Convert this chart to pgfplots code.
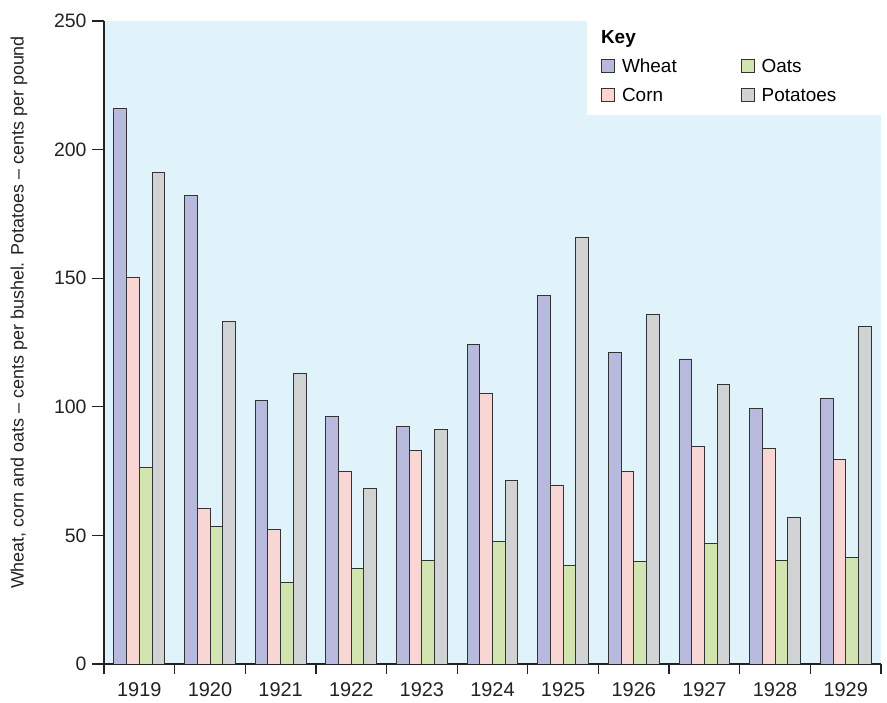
\documentclass[border=0pt]{standalone}
\usepackage{fontspec}
\setmainfont{Liberation Sans}
\usepackage{pgfplots}
\pgfplotsset{compat=1.18}
\definecolor{bgblue}{HTML}{E0F3FA}
\definecolor{wheatc}{HTML}{B7BADC}
\definecolor{cornc}{HTML}{F8D6D4}
\definecolor{oatsc}{HTML}{D2E4B0}
\definecolor{potc}{HTML}{D1D2D4}
\definecolor{edgec}{HTML}{333333}
\definecolor{axc}{HTML}{222222}
\pgfplotsset{
  sq/.style={legend image code/.code={\draw[##1, line width=0.9bp, draw=edgec] (0bp,-6.5bp) rectangle (13bp,6.5bp);}},
}
\begin{document}
\begin{tikzpicture}
\useasboundingbox (-104bp,-39bp) rectangle (783bp,664bp);
\begin{axis}[
  scale only axis, width=777bp, height=643bp,
  xmin=-0.5, xmax=10.5, ymin=0, ymax=250,
  ybar, bar width=12.7bp,
  axis background/.style={fill=bgblue},
  axis x line*=bottom, axis y line*=left,
  axis line style={line width=1.2bp, draw=axc},
  ytick={0,50,...,250},
  xtick={0,...,10},
  xticklabels={1919,1920,1921,1922,1923,1924,1925,1926,1927,1928,1929},
  minor xtick={-0.5,0.5,...,10.5},
  tick align=outside,
  major tick length=12bp, minor tick length=10bp,
  major x tick style={draw=none},
  minor x tick style={draw=axc, line width=1.2bp},
  major y tick style={draw=axc, line width=1.2bp},
  /pgf/number format/assume math mode=true,
  yticklabel style={font=\fontsize{19.5}{22}\selectfont, text=axc, xshift=-2bp},
  xticklabel style={font=\fontsize{20}{24}\selectfont, text=axc, yshift=-3bp},
  ylabel={Wheat, corn and oats – cents per bushel. Potatoes – cents per pound},
  ylabel style={font=\fontsize{18}{21}\selectfont, text=axc, at={(axis description cs:-0.1094,0.5467)}, anchor=center},
  legend columns=2,
  legend cell align=left,
  legend style={at={(axis description cs:0.6216,1)}, anchor=north west, draw=none, fill=none,
    font=\fontsize{19}{22}\selectfont, inner xsep=14bp, inner ysep=7bp, row sep=10bp,
    /tikz/column 1/.style={column sep=5bp},
    /tikz/column 3/.style={column sep=5bp},
    /tikz/column 2/.style={column sep=62bp}},
]
\fill[white] (rel axis cs:0.6216,0.8538) rectangle (rel axis cs:1,1);
\addlegendimage{empty legend}\addlegendentry{\hspace*{-21bp}\textbf{Key}}
\addlegendimage{empty legend}\addlegendentry{}
\addplot[sq, fill=wheatc, draw=edgec, line width=0.9bp, bar shift=-19.05bp] coordinates {
(0,216) (1,182) (2,102.6) (3,96.2) (4,92.2) (5,124.3) (6,143.2) (7,121.3) (8,118.6) (9,99.4) (10,103.1)};
\addlegendentry{Wheat}
\addplot[sq, fill=oatsc, draw=edgec, line width=0.9bp, bar shift=6.35bp] coordinates {
(0,76.3) (1,53.4) (2,31.8) (3,37.1) (4,40.4) (5,47.6) (6,38.5) (7,39.8) (8,46.8) (9,40.4) (10,41.5)};
\addlegendentry{Oats}
\addplot[sq, fill=cornc, draw=edgec, line width=0.9bp, bar shift=-6.35bp] coordinates {
(0,150.3) (1,60.5) (2,52.4) (3,74.8) (4,83.2) (5,105) (6,69.6) (7,74.9) (8,84.5) (9,84.0) (10,79.4)};
\addlegendentry{Corn}
\addplot[sq, fill=potc, draw=edgec, line width=0.9bp, bar shift=19.05bp] coordinates {
(0,191) (1,133) (2,113) (3,68.2) (4,91.1) (5,71.2) (6,166) (7,136) (8,108.6) (9,56.8) (10,131.2)};
\addlegendentry{Potatoes}
\end{axis}
\end{tikzpicture}
\end{document}
